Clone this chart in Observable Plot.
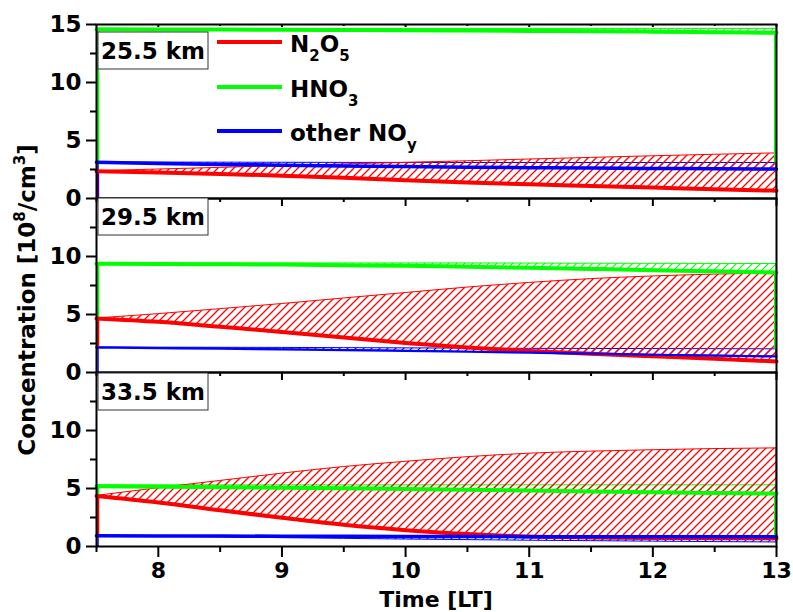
<!DOCTYPE html>
<html>
<head>
<meta charset="utf-8">
<script src="https://cdn.jsdelivr.net/npm/d3@7"></script>
<script src="https://cdn.jsdelivr.net/npm/@observablehq/plot@0.6"></script>
<style>
  html, body { margin: 0; padding: 0; background: #fff; }
  #wrap { position: relative; width: 793px; height: 612px; overflow: hidden; background: #fff; }
  #overlay { position: absolute; left: 0; top: 0; pointer-events: none; }
</style>
</head>
<body>
<div id="wrap"></div>
<script>
// ---------- data ----------
const times = [7.5, 8, 8.5, 9, 9.5, 10, 10.5, 11, 11.5, 12, 12.5, 13];
const altitudes = ["25.5 km", "29.5 km", "33.5 km"];
const yTicksMajor = [0, 5, 10, 15];
const yTicksMinor = [2.5, 7.5, 12.5];
const xTicksMajor = [8, 9, 10, 11, 12, 13];
const xTicksMinor = [7.5, 8.5, 9.5, 10.5, 11.5, 12.5];

// 25.5 km
const n2o5_255     = [2.35, 2.25, 2.12, 1.97, 1.78, 1.57, 1.38, 1.22, 1.08, 0.94, 0.80, 0.67];
const n2o5Band_255 = [2.35, 2.50, 2.64, 2.79, 2.94, 3.07, 3.21, 3.36, 3.50, 3.64, 3.77, 3.89];
const hno3_255     = [14.58, 14.57, 14.56, 14.55, 14.53, 14.51, 14.48, 14.45, 14.42, 14.38, 14.33, 14.28];
const hno3Band_255 = [14.60, 14.60, 14.61, 14.61, 14.62, 14.62, 14.62, 14.62, 14.62, 14.62, 14.62, 14.62];
const noy_255      = [3.12, 3.02, 2.94, 2.87, 2.81, 2.75, 2.70, 2.66, 2.62, 2.59, 2.56, 2.54];
const noyBand_255  = [3.12, 3.10, 3.09, 3.08, 3.07, 3.07, 3.06, 3.06, 3.06, 3.06, 3.06, 3.06];
const start_255    = [0, 3.12, 0];   // level each curve rises from at 7.5 LT: N2O5, HNO3, other NOy
const end_255      = [3.06];         // level the HNO3 curve drops to at 13 LT

// 29.5 km
const n2o5_295     = [4.66, 4.37, 3.94, 3.50, 3.02, 2.55, 2.15, 1.85, 1.62, 1.40, 1.18, 0.95];
const n2o5Band_295 = [4.66, 5.03, 5.46, 5.90, 6.38, 6.85, 7.32, 7.72, 8.05, 8.28, 8.44, 8.53];
const hno3_295     = [9.38, 9.36, 9.33, 9.30, 9.25, 9.20, 9.12, 9.03, 8.93, 8.82, 8.72, 8.62];
const hno3Band_295 = [9.40, 9.40, 9.40, 9.40, 9.40, 9.40, 9.40, 9.39, 9.38, 9.37, 9.36, 9.35];
const noy_295      = [2.15, 2.10, 2.05, 1.99, 1.93, 1.86, 1.79, 1.71, 1.62, 1.53, 1.45, 1.38];
const noyBand_295  = [2.15, 2.14, 2.13, 2.12, 2.10, 2.08, 2.06, 2.04, 2.03, 2.02, 2.01, 2.00];
const start_295    = [2.15, 4.66, 0];
const end_295      = [2.00];

// 33.5 km
const n2o5_335     = [4.36, 3.80, 3.12, 2.48, 1.87, 1.41, 1.08, 0.86, 0.78, 0.74, 0.72, 0.70];
const n2o5Band_335 = [4.36, 5.02, 5.65, 6.28, 6.85, 7.30, 7.70, 8.00, 8.18, 8.30, 8.40, 8.46];
const hno3_335     = [5.20, 5.15, 5.11, 5.07, 5.02, 4.96, 4.90, 4.83, 4.75, 4.68, 4.62, 4.56];
const hno3Band_335 = [5.27, 5.27, 5.27, 5.27, 5.27, 5.27, 5.27, 5.27, 5.27, 5.27, 5.27, 5.27];
const noy_335      = [0.92, 0.91, 0.90, 0.89, 0.88, 0.87, 0.86, 0.85, 0.84, 0.84, 0.83, 0.83];
const noyBand_335  = [0.92, 0.85, 0.78, 0.72, 0.66, 0.60, 0.55, 0.50, 0.46, 0.42, 0.38, 0.35];
const start_335    = [0.92, 4.36, 0];
const end_335      = [0.83];

// ---------- styling ----------
const RED = "#ff0000", GREEN = "#00ff00", BLUE = "#0000ff";
const FONT = "DejaVu Sans";
const W = 793, ML = 96, MR = 17, PH = 174;
const panelTops = [24, 198, 372];

const panels = [
  {n2o5: n2o5_255, n2o5B: n2o5Band_255, hno3: hno3_255, hno3B: hno3Band_255, noy: noy_255, noyB: noyBand_255, start: start_255, end: end_255, noyW: 3.5},
  {n2o5: n2o5_295, n2o5B: n2o5Band_295, hno3: hno3_295, hno3B: hno3Band_295, noy: noy_295, noyB: noyBand_295, start: start_295, end: end_295, noyW: 2.2},
  {n2o5: n2o5_335, n2o5B: n2o5Band_335, hno3: hno3_335, hno3B: hno3Band_335, noy: noy_335, noyB: noyBand_335, start: start_335, end: end_335, noyW: 3.5}
];

const NS = "http://www.w3.org/2000/svg";
function el(tag, attrs, parent) {
  const e = document.createElementNS(NS, tag);
  for (const k in attrs) e.setAttribute(k, attrs[k]);
  if (parent) parent.appendChild(e);
  return e;
}
function addPatterns(svg, i) {
  const defs = el("defs", {});
  svg.insertBefore(defs, svg.firstChild);
  [["red", RED, 1.3], ["green", GREEN, 1.2], ["blue", BLUE, 1.2]].forEach(([name, c, w]) => {
    const pat = el("pattern", {id: `hatch-${name}-${i}`, patternUnits: "userSpaceOnUse", width: 8, height: 8}, defs);
    el("path", {d: "M-2,2 l4,-4 M0,8 l8,-8 M6,10 l4,-4", fill: "none", stroke: c, "stroke-width": w, style: `stroke:${c};fill:none`}, pat);
  });
}

const wrap = document.getElementById("wrap");
const curve = "monotone-x";

panels.forEach((p, i) => {
  const rows = times.map((t, k) => ({
    t, n2o5: p.n2o5[k], n2o5B: p.n2o5B[k], hno3: p.hno3[k], hno3B: p.hno3B[k], noy: p.noy[k], noyB: p.noyB[k]
  }));
  const first = rows[0];
  const lastRow = rows[rows.length - 1];
  const last = i === 2;
  const mt = 14, mb = last ? 612 - (panelTops[i] + PH) : 6;
  const topTick = i === 0 ? 3 : 8;
  const topTickMinor = i === 0 ? 2 : 4;

  const marks = [
    Plot.areaY(rows, {x: "t", y1: "noy", y2: "noyB", fill: `url(#hatch-blue-${i})`, stroke: BLUE, strokeWidth: 1, curve}),
    Plot.areaY(rows, {x: "t", y1: "hno3", y2: "hno3B", fill: `url(#hatch-green-${i})`, stroke: GREEN, strokeWidth: 1, curve}),
    Plot.areaY(rows, {x: "t", y1: "n2o5", y2: "n2o5B", fill: `url(#hatch-red-${i})`, stroke: RED, strokeWidth: 1, curve}),
    Plot.ruleX([first], {x: "t", y1: () => p.start[1], y2: "hno3", stroke: GREEN, strokeWidth: 2.5, dx: 1.5}),
    Plot.ruleX([first], {x: "t", y1: () => p.start[0], y2: "n2o5", stroke: RED, strokeWidth: 2.5, dx: 1.5}),
    Plot.ruleX([first], {x: "t", y1: () => p.start[2], y2: "noy", stroke: BLUE, strokeWidth: 1.5, dx: 1.5}),
    Plot.ruleX([lastRow], {x: "t", y1: () => p.end[0], y2: "hno3", stroke: GREEN, strokeWidth: 2, dx: -1.5}),
    Plot.lineY(rows, {x: "t", y: "n2o5", stroke: RED, strokeWidth: 4, curve}),
    Plot.lineY(rows, {x: "t", y: "hno3", stroke: GREEN, strokeWidth: 4, curve}),
    Plot.lineY(rows, {x: "t", y: "noy", stroke: BLUE, strokeWidth: p.noyW, curve}),
    Plot.frame({stroke: "black", strokeWidth: 2}),
    Plot.axisY(i === 0 ? yTicksMajor : yTicksMajor.slice(0, 3), {
      anchor: "left", tickSize: 10, tickPadding: 5, strokeWidth: 2, label: null,
      fontSize: 23, fontWeight: "bold", fontFamily: FONT, fill: "black", tickFormat: d => String(d)
    }),
    Plot.axisY(yTicksMinor, {anchor: "left", tickSize: 6, strokeWidth: 2, label: null, tickFormat: () => ""}),
    Plot.ruleX(xTicksMajor, {x: d => d, stroke: "black", strokeWidth: 2, insetBottom: PH - topTick}),
    Plot.ruleX(xTicksMinor, {x: d => d, stroke: "black", strokeWidth: 2, insetBottom: PH - topTickMinor})
  ];
  if (last) {
    marks.push(
      Plot.axisX(xTicksMajor, {
        anchor: "bottom", tickSize: 11, tickPadding: 5, strokeWidth: 2, label: null,
        fontSize: 22, fontWeight: "bold", fontFamily: FONT, fill: "black", tickFormat: d => String(d)
      }),
      Plot.axisX(xTicksMinor, {anchor: "bottom", tickSize: 6, strokeWidth: 2, label: null, tickFormat: () => ""})
    );
  }

  const chart = Plot.plot({
    width: W,
    height: mt + PH + mb,
    marginLeft: ML, marginRight: MR, marginTop: mt, marginBottom: mb,
    x: last ? {domain: [7.5, 13], label: null} : {domain: [7.5, 13], axis: null, label: null},
    y: {domain: [0, 15], label: null},
    style: {background: "transparent", overflow: "visible", fontFamily: FONT},
    marks
  });
  addPatterns(chart, i);
  chart.style.position = "absolute";
  chart.style.top = (panelTops[i] - mt) + "px";
  chart.style.left = "0px";
  wrap.appendChild(chart);
});

// ---------- overlay texts: axis titles, legend, altitude labels ----------
const ov = el("svg", {id: "overlay", width: W, height: 612, "font-family": FONT, "font-weight": "bold"}, wrap);
ov.style.position = "absolute";
ov.style.left = "0px";
ov.style.top = "0px";

function rich(parent, parts) {
  for (const [txt, kind] of parts) {
    const ts = el("tspan", {}, parent);
    ts.textContent = txt;
    if (kind === "sub") { ts.setAttribute("font-size", "15"); ts.setAttribute("dy", "9"); }
    else if (kind === "sup") { ts.setAttribute("font-size", "15"); ts.setAttribute("dy", "-10"); }
    else if (kind === "back-sub") { ts.setAttribute("dy", "-9"); }
    else if (kind === "back-sup") { ts.setAttribute("dy", "10"); }
  }
}

// altitude labels
altitudes.forEach((a, i) => {
  const top = [32, 198, 373][i];
  el("rect", {x: 98, y: top, width: 110, height: 37, fill: "white", stroke: "#333", "stroke-width": 1}, ov);
  const t = el("text", {x: 153, y: top + 27, "text-anchor": "middle", "font-size": 23, fill: "black"}, ov);
  t.textContent = a;
});

// legend
const legend = [
  {c: RED, y: 42, parts: [["N", ""], ["2", "sub"], ["O", "back-sub"], ["5", "sub"]]},
  {c: GREEN, y: 87, parts: [["HNO", ""], ["3", "sub"]]},
  {c: BLUE, y: 131, parts: [["other NO", ""], ["y", "sub"]]}
];
legend.forEach(L => {
  el("line", {x1: 217, x2: 282, y1: L.y, y2: L.y, stroke: L.c, "stroke-width": 4}, ov);
  const t = el("text", {x: 290, y: L.y + 10, "font-size": 23, fill: "black"}, ov);
  rich(t, L.parts);
});

// y title
const yt = el("text", {transform: "translate(35,300) rotate(-90)", "text-anchor": "middle", "font-size": 23, fill: "black"}, ov);
rich(yt, [["Concentration [10", ""], ["8", "sup"], ["/cm", "back-sup"], ["3", "sup"], ["]", "back-sup"]]);

// x title
const xt = el("text", {x: 436, y: 607, "text-anchor": "middle", "font-size": 22, fill: "black"}, ov);
xt.textContent = "Time [LT]";
</script>
</body>
</html>
